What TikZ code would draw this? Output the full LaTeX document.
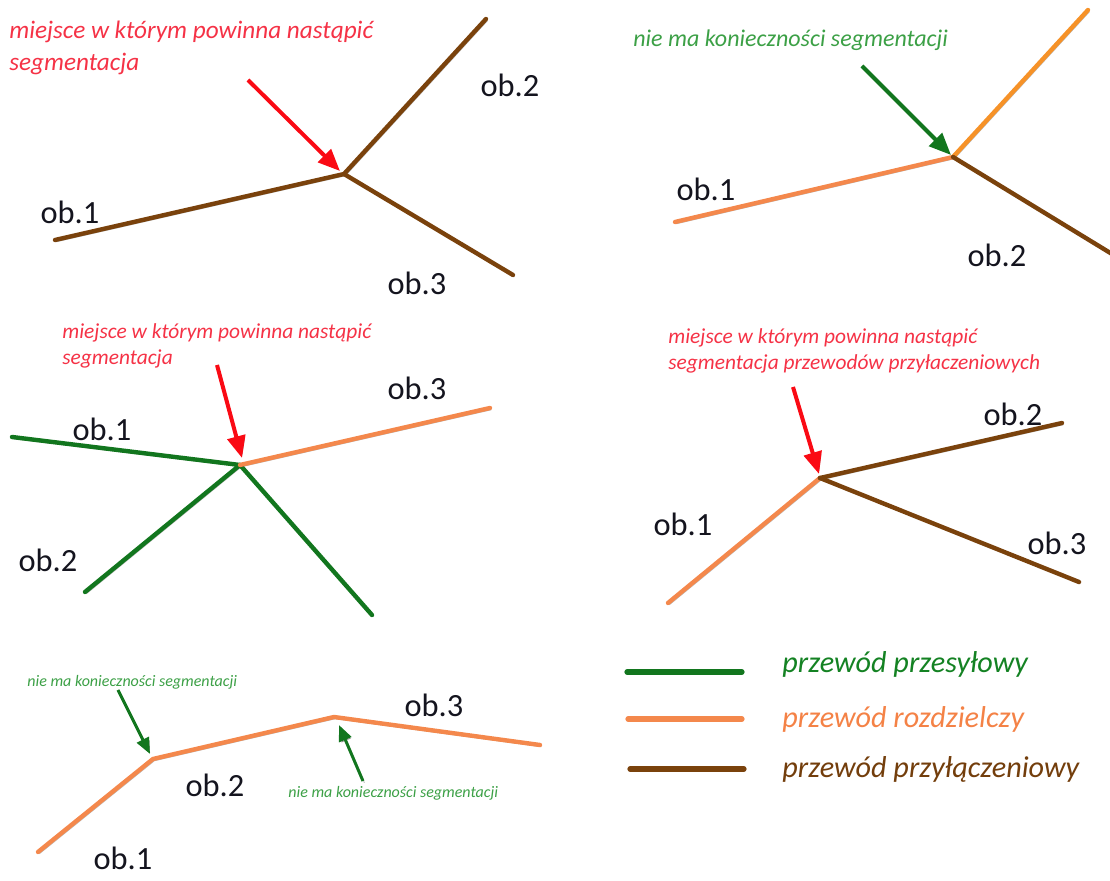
\documentclass[tikz,border=0pt]{standalone}
\usepackage{fontspec}
\setmainfont{Carlito}
\usetikzlibrary{arrows.meta}
\definecolor{cgreen}{RGB}{18,118,30}
\definecolor{corange}{RGB}{244,136,76}
\definecolor{cbright}{RGB}{246,146,40}
\definecolor{cbrown}{RGB}{122,66,12}
\definecolor{cred}{RGB}{250,10,20}
\definecolor{tred}{RGB}{245,50,70}
\definecolor{tgreen}{RGB}{60,160,70}
\definecolor{lgreen}{RGB}{20,130,35}
\definecolor{lorange}{RGB}{244,130,70}
\definecolor{lbrown}{RGB}{115,62,12}
\definecolor{ink}{RGB}{20,20,30}
\tikzset{
  shad/.style={preaction={draw=black, opacity=0.28, transform canvas={shift={(0.7pt,-0.9pt)}}}},
  wire/.style={shad, line width=2.2pt, line cap=round},
  gwire/.style={wire, draw=cgreen},
  owire/.style={wire, draw=corange},
  bwire/.style={wire, draw=cbrown},
  yowire/.style={wire, draw=cbright},
  redarrow/.style={shad, draw=cred, line width=2pt, -{Triangle[length=11pt,width=9pt]}},
  grarrow/.style={shad, draw=cgreen, line width=2pt, -{Triangle[length=11pt,width=9pt]}},
  smarrow/.style={shad, draw=cgreen, line width=1.5pt, -{Triangle[length=8pt,width=6.5pt]}},
  lab/.style={inner sep=0pt, anchor=base, text=ink, font=\fontsize{16.2}{18}\selectfont},
  redtxt/.style={inner sep=0pt, anchor=base west, text=tred, font=\itshape\fontsize{12.6}{16}\selectfont},
  redsm/.style={inner sep=0pt, anchor=base west, text=tred, font=\itshape\fontsize{10.7}{13}\selectfont},
  grtxt/.style={inner sep=0pt, anchor=base west, text=tgreen, font=\itshape\fontsize{12}{16}\selectfont},
  grsm/.style={inner sep=0pt, anchor=base west, text=tgreen, font=\itshape\fontsize{8}{9}\selectfont},
  legtxt/.style={inner sep=0pt, anchor=base west, font=\itshape\fontsize{15.1}{18}\selectfont},
}
\begin{document}
\begin{tikzpicture}[x=0.5pt, y=-0.5pt]
\useasboundingbox (0,0) rectangle (1110,881);
% ---------- top-left ----------
\coordinate (tl1) at (55,240);
\coordinate (tlj) at (344,174);
\coordinate (tl2) at (486,19);
\coordinate (tl3) at (513,275);
\coordinate (tla) at (248,80);
\coordinate (tlt) at (340,171);
\draw[bwire] (tl1) -- (tlj);
\draw[bwire] (tlj) -- (tl2);
\draw[bwire] (tlj) -- (tl3);
\draw[redarrow] (tla) -- (tlt);
\node[redtxt, align=left] (tltx) at (9,71) {miejsce w którym powinna nastąpić\\segmentacja};
\node[lab] (tlo1) at (70,224) {ob.1};
\node[lab] (tlo2) at (510,97) {ob.2};
\node[lab] (tlo3) at (417,295) {ob.3};
% ---------- top-right ----------
\coordinate (tr1) at (675,222);
\coordinate (trj) at (953,157);
\coordinate (tr2) at (1088,10);
\coordinate (tr3) at (1112,254);
\coordinate (tra) at (862,66);
\coordinate (trt) at (951,155);
\draw[owire] (tr1) -- (trj);
\draw[yowire] (trj) -- (tr2);
\draw[bwire] (trj) -- (tr3);
\draw[grarrow] (tra) -- (trt);
\node[grtxt] (trtx) at (633,47) {nie ma konieczności segmentacji};
\node[lab] (tro1) at (706,201) {ob.1};
\node[lab] (tro2) at (997,267) {ob.2};
% ---------- middle-left ----------
\coordinate (ml1) at (12,437);
\coordinate (mlj) at (240,465);
\coordinate (ml3) at (490,408);
\coordinate (ml2) at (85,592);
\coordinate (ml4) at (372,615);
\coordinate (mla) at (217,365);
\coordinate (mlt) at (242,458);
\draw[gwire] (ml1) -- (mlj);
\draw[gwire] (mlj) -- (ml2);
\draw[gwire] (mlj) -- (ml4);
\draw[owire] (mlj) -- (ml3);
\draw[redarrow] (mla) -- (mlt);
\node[redsm, align=left] (mltx) at (62,365) {miejsce w którym powinna nastąpić\\segmentacja};
\node[lab] (mlo1) at (102,441) {ob.1};
\node[lab] (mlo2) at (48,572) {ob.2};
\node[lab] (mlo3) at (417,400) {ob.3};
% ---------- middle-right ----------
\coordinate (mr1) at (668,603);
\coordinate (mrj) at (820,478);
\coordinate (mr2) at (1062,423);
\coordinate (mr3) at (1079,582);
\coordinate (mra) at (793,387);
\coordinate (mrt) at (819,474);
\draw[owire] (mr1) -- (mrj);
\draw[bwire] (mrj) -- (mr2);
\draw[bwire] (mrj) -- (mr3);
\draw[redarrow] (mra) -- (mrt);
\node[redsm, align=left] (mrtx) at (668,370) {miejsce w którym powinna nastąpić\\segmentacja przewodów przyłaczeniowych};
\node[lab] (mro1) at (683,536) {ob.1};
\node[lab] (mro2) at (1013,426) {ob.2};
\node[lab] (mro3) at (1057,555) {ob.3};
% ---------- bottom-left ----------
\coordinate (bl1) at (38,852);
\coordinate (bl2) at (153,759);
\coordinate (bl3) at (334,717);
\coordinate (bl4) at (540,745);
\coordinate (bla) at (118,690);
\coordinate (blat) at (150,754);
\coordinate (blb) at (363,781);
\coordinate (blbt) at (339,725);
\draw[owire, line join=round] (bl1) -- (bl2) -- (bl3) -- (bl4);
\draw[smarrow] (bla) -- (blat);
\draw[smarrow] (blb) -- (blbt);
\node[grsm] (bltx1) at (27,687) {nie ma konieczności segmentacji};
\node[grsm] (bltx2) at (288,798) {nie ma konieczności segmentacji};
\node[lab] (blo1) at (123,870) {ob.1};
\node[lab] (blo2) at (215,797) {ob.2};
\node[lab] (blo3) at (434,717) {ob.3};
% ---------- legend ----------
\coordinate (lg1a) at (627,672);
\coordinate (lg1b) at (742,672);
\coordinate (lg2a) at (628,719);
\coordinate (lg2b) at (742,719);
\coordinate (lg3a) at (630,769);
\coordinate (lg3b) at (744,769);
\draw[gwire, line width=2.6pt] (lg1a) -- (lg1b);
\draw[owire, line width=2.6pt] (lg2a) -- (lg2b);
\draw[bwire, line width=2.6pt] (lg3a) -- (lg3b);
\node[legtxt, text=lgreen] (lgt1) at (782,673) {przewód przesyłowy};
\node[legtxt, text=lorange] (lgt2) at (782,728) {przewód rozdzielczy};
\node[legtxt, text=lbrown] (lgt3) at (782,778) {przewód przyłączeniowy};
\end{tikzpicture}
\end{document}
